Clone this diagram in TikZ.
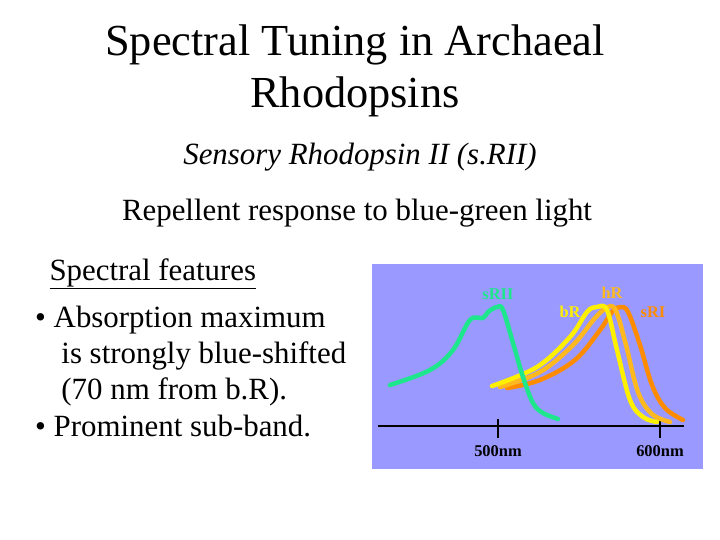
\documentclass[tikz,border=0pt]{standalone}
\usepackage{fontspec}
\setmainfont{Liberation Serif}
\begin{document}
\begin{tikzpicture}[x=1bp,y=-1bp,
 big/.style={font=\fontsize{44.5}{52}\selectfont},
 mid/.style={font=\fontsize{31}{36}\selectfont},
 lab/.style={font=\bfseries\fontsize{16.5}{18}\selectfont},
 curve/.style={line width=4.5bp,line cap=round,line join=round}]
\useasboundingbox (0,0) rectangle (720,540);
\node[big,align=center] (title) at (355,71) {Spectral Tuning in Archaeal\\Rhodopsins};
\node[font=\itshape\fontsize{31}{36}\selectfont] (sub) at (360,157) {Sensory Rhodopsin II (s.RII)};
\node[mid] (rep) at (357,213) {Repellent response to blue-green light};
\node[mid,anchor=west] (sf) at (46,274) {\underline{Spectral features}};
\node[anchor=north west,align=left,inner sep=0,font=\fontsize{31}{36.3}\selectfont] (bul) at (35,306) {\textbullet\ Absorption maximum\\\hspace*{0.6em} is strongly blue-shifted\\\hspace*{0.6em} (70 nm from b.R).\\\textbullet\ Prominent sub-band.};
\fill[fill={rgb,255:red,153;green,153;blue,255}] (372,264) rectangle (703,469);
\coordinate (a0) at (378,426); \coordinate (a1) at (684,426);
\draw[line width=2.5bp] (a0) -- (a1);
\draw[line width=2.5bp] (498,419) -- (498,438);
\draw[line width=2.5bp] (660,419) -- (660,438);
\node[lab] (t5) at (498,451) {500nm};
\node[lab] (t6) at (660,451) {600nm};
\draw[curve,color={rgb,255:red,255;green,140;blue,0}] plot[smooth,tension=0.6] coordinates {(507,388) (540,380) (575,360) (600,330) (612,312) (620,307) (628,312) (640,345) (652,385) (665,408) (683,420)};
\draw[curve,color={rgb,255:red,255;green,185;blue,30}] plot[smooth,tension=0.6] coordinates {(500,387) (540,372) (573,345) (595,318) (608,307) (616,311) (626,345) (638,392) (652,414) (670,422)};
\draw[curve,color={rgb,255:red,255;green,240;blue,0}] plot[smooth,tension=0.6] coordinates {(492,386) (537,367) (570,337) (587,312) (597,307) (607,310) (617,350) (630,400) (643,417) (657,422)};
\draw[curve,color={rgb,255:red,30;green,230;blue,140}] plot[smooth,tension=0.6] coordinates {(390,385) (430,370) (453,350) (470,320) (483,318) (488,312) (497,307) (503,310) (513,343) (523,377) (533,403) (543,413) (558,419)};
\node[lab,text={rgb,255:red,30;green,230;blue,140}] (l1) at (498,294) {sRII};
\node[lab,text={rgb,255:red,255;green,240;blue,0}] (l2) at (570,312) {bR};
\node[lab,text={rgb,255:red,255;green,185;blue,30}] (l3) at (612,293) {hR};
\node[lab,text={rgb,255:red,255;green,140;blue,0}] (l4) at (653,312) {sRI};
\end{tikzpicture}
\end{document}
